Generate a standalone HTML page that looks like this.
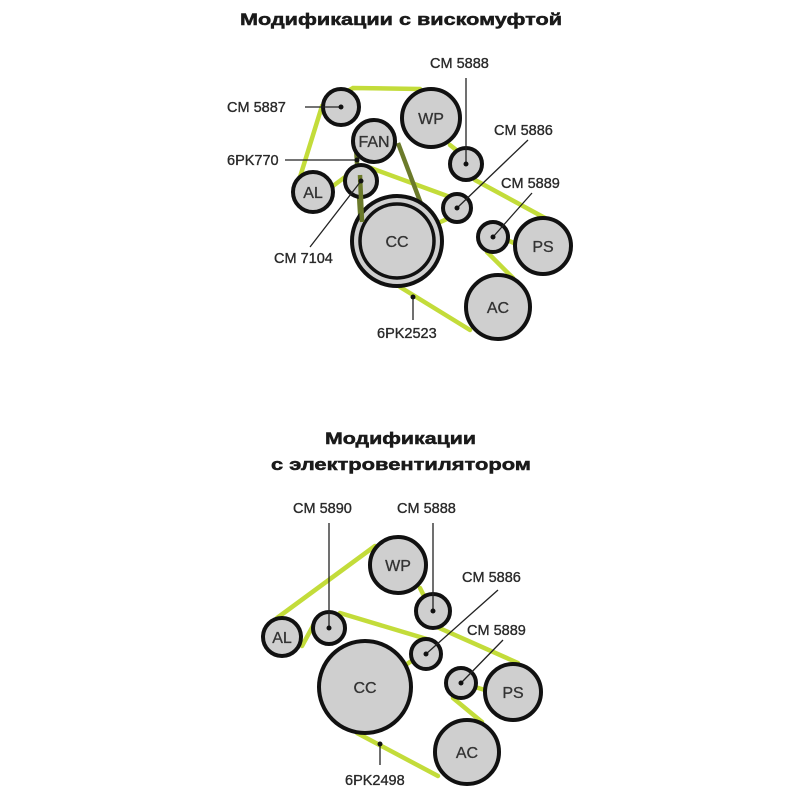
<!DOCTYPE html>
<html><head><meta charset="utf-8"><style>
html,body{margin:0;padding:0;background:#fff;}
svg{display:block}
text{font-family:"Liberation Sans","DejaVu Sans",sans-serif;fill:#2a2a2a;}
.t{font-weight:bold;font-size:17px;fill:#1a1a1a;stroke:#1a1a1a;stroke-width:0.5}
.l{font-size:14.5px;stroke:#2a2a2a;stroke-width:0.35}
.n{font-size:16px;text-anchor:middle;fill:#333;stroke:#333;stroke-width:0.3}
.c{fill:#cfcfcf;stroke:#111;stroke-width:4}
.b{stroke:#c3dc3a;stroke-width:4.5;fill:none;stroke-linecap:round}
.o{stroke:#6b7a2a;stroke-width:4.5;fill:none}
.k{stroke:#222;stroke-width:1.3;fill:none}
</style></head><body>
<svg width="800" height="800" viewBox="0 0 800 800">
<rect width="800" height="800" fill="#fff"/>
<text class="t" x="240" y="25" textLength="322" lengthAdjust="spacingAndGlyphs">Модификации с вискомуфтой</text>
<g class="b">
<polyline points="300,177 322,106 353,88 420,89"/>
<line x1="450" y1="145" x2="460" y2="153"/>
<line x1="475" y1="180" x2="545" y2="218"/>
<line x1="514" y1="243" x2="507" y2="240"/>
<line x1="487" y1="252" x2="513" y2="278"/>
<line x1="470" y1="330" x2="400" y2="287"/>
<polyline points="333,186 345,177"/>
<line x1="368" y1="167" x2="450" y2="197"/>
<line x1="447" y1="219" x2="436" y2="224"/>
</g>
<g class="o">
<line x1="356" y1="147" x2="361" y2="228"/>
<line x1="398" y1="143" x2="426" y2="217"/>
</g>
<circle class="c" cx="341" cy="107" r="18"/>
<circle class="c" cx="431" cy="118" r="29"/>
<circle class="c" cx="374" cy="141" r="21"/>
<circle class="c" cx="466" cy="164" r="16"/>
<circle class="c" cx="313" cy="192" r="20"/>
<circle class="c" cx="361" cy="181" r="16"/>
<circle class="c" cx="457" cy="208" r="14"/>
<circle class="c" cx="397" cy="241" r="45"/>
<circle class="c" cx="397" cy="241" r="37" style="stroke-width:3.5"/>
<circle class="c" cx="493" cy="237" r="15"/>
<circle class="c" cx="543" cy="246" r="28"/>
<circle class="c" cx="498" cy="307" r="32"/>
<g class="o"><line x1="360" y1="175" x2="362" y2="222"/></g>
<text class="n" x="431" y="124">WP</text>
<text class="n" x="374" y="147">FAN</text>
<text class="n" x="313" y="198">AL</text>
<text class="n" x="397" y="247">CC</text>
<text class="n" x="543" y="252">PS</text>
<text class="n" x="498" y="313">AC</text>
<g class="k">
<line x1="305" y1="107" x2="341" y2="107"/>
<line x1="285" y1="160" x2="357" y2="160"/>
<line x1="361" y1="181" x2="310" y2="247"/>
<line x1="466" y1="78" x2="466" y2="164"/>
<line x1="528" y1="140" x2="457" y2="208"/>
<line x1="532" y1="193" x2="493" y2="237"/>
<line x1="413" y1="297" x2="413" y2="320"/>
</g>
<g fill="#111">
<circle cx="341" cy="107" r="2.5"/><circle cx="357" cy="160" r="2.5"/><circle cx="361" cy="181" r="2.5"/>
<circle cx="466" cy="164" r="2.5"/><circle cx="457" cy="208" r="2.5"/><circle cx="493" cy="237" r="2.5"/><circle cx="413" cy="297" r="2.5"/>
</g>
<text class="l" x="227" y="112">CM 5887</text>
<text class="l" x="227" y="165">6PK770</text>
<text class="l" x="274" y="263">CM 7104</text>
<text class="l" x="430" y="68">CM 5888</text>
<text class="l" x="494" y="135">CM 5886</text>
<text class="l" x="501" y="188">CM 5889</text>
<text class="l" x="377" y="338">6PK2523</text>

<text class="t" x="325" y="444" textLength="151" lengthAdjust="spacingAndGlyphs">Модификации</text>
<text class="t" x="271" y="470" textLength="260" lengthAdjust="spacingAndGlyphs">с электровентилятором</text>
<g class="b">
<line x1="277" y1="618" x2="375" y2="546"/>
<line x1="420" y1="588" x2="425" y2="598"/>
<line x1="437" y1="627" x2="518" y2="663"/>
<line x1="485" y1="690" x2="475" y2="687"/>
<line x1="453" y1="698" x2="482" y2="722"/>
<line x1="438" y1="776" x2="357" y2="733"/>
<line x1="407" y1="664" x2="413" y2="660"/>
<line x1="430" y1="640" x2="340" y2="613"/>
<line x1="314" y1="624" x2="302" y2="646"/>
</g>
<circle class="c" cx="398" cy="565" r="28"/>
<circle class="c" cx="433" cy="611" r="17"/>
<circle class="c" cx="282" cy="637" r="19"/>
<circle class="c" cx="329" cy="628" r="16"/>
<circle class="c" cx="426" cy="654" r="15"/>
<circle class="c" cx="365" cy="687" r="46"/>
<circle class="c" cx="461" cy="683" r="15"/>
<circle class="c" cx="513" cy="692" r="28"/>
<circle class="c" cx="467" cy="752" r="32"/>
<text class="n" x="398" y="571">WP</text>
<text class="n" x="282" y="643">AL</text>
<text class="n" x="365" y="693">CC</text>
<text class="n" x="513" y="698">PS</text>
<text class="n" x="467" y="758">AC</text>
<g class="k">
<line x1="329" y1="523" x2="329" y2="628"/>
<line x1="433" y1="523" x2="433" y2="611"/>
<line x1="498" y1="590" x2="426" y2="654"/>
<line x1="503" y1="640" x2="461" y2="683"/>
<line x1="380" y1="744" x2="380" y2="765"/>
</g>
<g fill="#111">
<circle cx="329" cy="628" r="2.5"/><circle cx="433" cy="611" r="2.5"/><circle cx="426" cy="654" r="2.5"/>
<circle cx="461" cy="683" r="2.5"/><circle cx="380" cy="744" r="2.5"/>
</g>
<text class="l" x="293" y="513">CM 5890</text>
<text class="l" x="397" y="513">CM 5888</text>
<text class="l" x="462" y="582">CM 5886</text>
<text class="l" x="467" y="635">CM 5889</text>
<text class="l" x="345" y="785">6PK2498</text>
</svg>
</body></html>
